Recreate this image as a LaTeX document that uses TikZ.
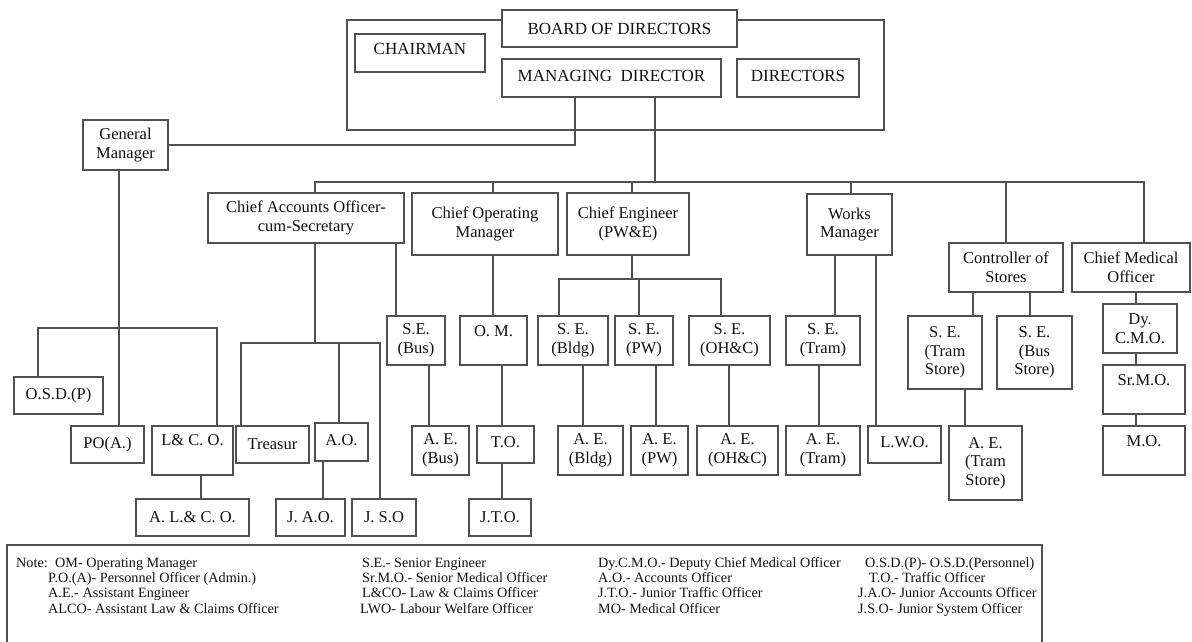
\documentclass[tikz,border=0pt]{standalone}
\usepackage{fontspec}
\setmainfont{Liberation Serif}
\usetikzlibrary{calc}
\definecolor{ln}{HTML}{505050}
\definecolor{tx}{HTML}{111111}
\tikzset{
 box/.style={draw=ln,line width=1.2pt,fill=white,inner sep=0pt,align=center,font=\fontsize{16.5}{18.5}\selectfont,text=tx},
 bigbox/.style={font=\fontsize{17}{19}\selectfont},
 link/.style={draw=ln,line width=1.2pt},
 topt/.style={text height=11.5pt,text depth=#1},
 note/.style={anchor=base west,inner sep=0pt,font=\fontsize{14.2}{15}\selectfont,text=tx}
}
\newcommand\bx[7][]{\node[box,minimum width={(#5)-(#3)},minimum height={(#6)-(#4)},#1] (#2) at ({((#3)+(#5))/2},{((#4)+(#6))/2}) {#7};}
\begin{document}
\begin{tikzpicture}[x=1pt,y=-1pt]
\useasboundingbox (0,0) rectangle (1192,642);
% top block
\bx{frame}{347}{20}{884}{130}{}
\bx[bigbox]{bod}{502}{10}{737}{47}{BOARD OF DIRECTORS}
\bx[bigbox,topt=9pt]{chair}{355}{34}{485}{72}{CHAIRMAN}
\bx[bigbox,topt=5pt]{md}{502}{59}{721}{97}{MANAGING\ \ DIRECTOR}
\bx[bigbox,topt=5pt]{dirs}{737}{59}{859}{97}{DIRECTORS}
\bx{gm}{83}{120}{168}{170}{General\\Manager}
% level 2
\bx{cao}{208}{193}{404}{243}{Chief Accounts Officer-\\cum-Secretary}
\bx{com}{412}{193}{558}{255}{Chief Operating\\Manager}
\bx{ce}{567}{193}{689}{255}{Chief Engineer\\(PW\&E)}
\bx{wm}{807}{194}{892}{255}{Works\\Manager}
\bx{cos}{949}{243}{1063}{292}{Controller of\\Stores}
\bx{cmo}{1072}{243}{1190}{292}{Chief Medical\\Officer}
% level 3
\bx{osd}{14}{377}{103}{414}{O.S.D.(P)}
\bx{seb}{387}{316}{445}{365}{S.E.\\(Bus)}
\bx[topt=20pt]{om}{460}{316}{527}{365}{O. M.}
\bx{sebl}{538}{316}{608}{365}{S. E.\\(Bldg)}
\bx{sepw}{615}{316}{673}{365}{S. E.\\(PW)}
\bx{seoh}{689}{316}{770}{365}{S. E.\\(OH\&C)}
\bx{setr}{786}{316}{860}{365}{S. E.\\(Tram)}
\bx{sets}{908}{316}{982}{389}{S. E.\\(Tram\\Store)}
\bx{sebs}{997}{316}{1072}{389}{S. E.\\(Bus\\Store)}
\bx{dcmo}{1103}{304}{1177}{353}{Dy.\\C.M.O.}
\bx[topt=20pt]{srmo}{1103}{365}{1185}{414}{Sr.M.O.}
\bx[topt=20pt]{mo}{1103}{426}{1185}{475}{M.O.}
% level 4
\bx{poa}{71}{426}{144}{463}{PO(A.)}
\bx[topt=22pt]{lco}{152}{426}{233}{475}{L\& C. O.}
\bx{tre}{236}{426}{309}{463}{Treasur}
\bx[topt=5pt]{ao}{315}{423}{368}{461}{A.O.}
\bx{aeb}{412}{426}{469}{475}{A. E.\\(Bus)}
\bx[topt=5pt]{to}{477}{426}{534}{463}{T.O.}
\bx{aebl}{558}{426}{623}{475}{A. E.\\(Bldg)}
\bx{aepw}{631}{426}{688}{475}{A. E.\\(PW)}
\bx{aeoh}{697}{426}{778}{475}{A. E.\\(OH\&C)}
\bx{aetr}{786}{426}{860}{475}{A. E.\\(Tram)}
\bx[topt=5pt]{lwo}{868}{426}{941}{463}{L.W.O.}
\bx{aets}{949}{426}{1022}{500}{A. E.\\(Tram\\Store)}
% level 5
\bx{alco}{136}{499}{249}{536}{A. L.\& C. O.}
\bx{jao}{276}{499}{345}{536}{J. A.O.}
\bx{jso}{352}{499}{416}{536}{J. S.O}
\bx{jto}{469}{499}{531}{536}{J.T.O.}
% junction coordinates
\coordinate (bus) at (655,182);
\coordinate (gmj) at (119,328);
\coordinate (caj) at (315,343);
\coordinate (cej) at (632,279);
% connectors
\draw[link] (md.south -| 575,0) |- (gm.east);
\draw[link] (md.south -| bus) -- (bus);
\draw[link] (cao.north -| 315,0) |- (bus);
\draw[link] (com.north -| 493,0) |- (bus);
\draw[link] (ce.north -| 632,0) |- (bus);
\draw[link] (wm.north -| 851,0) |- (bus);
\draw[link] (cos.north -| 1006,0) |- (bus);
\draw[link] (cmo.north -| 1144,0) |- (bus);
% general manager subtree
\draw[link] (gm.south -| gmj) -- (poa.north -| gmj);
\draw[link] (osd.north -| 38,0) |- (gmj);
\draw[link] (lco.north -| 217,0) |- (gmj);
\draw[link] (lco.south -| 201,0) -- (alco.north -| 201,0);
% chief accounts subtree
\draw[link] (cao.south -| caj) -- (caj);
\draw[link] (tre.north -| 241,0) |- (caj);
\draw[link] (jso.north -| 380,0) |- (caj);
\draw[link] (ao.north -| 339,0) |- (caj);
\draw[link] (ao.south -| 323,0) -- (jao.north -| 323,0);
\draw[link] (cao.south -| 396,0) -- (seb.north -| 396,0);
\draw[link] (seb.south -| 429,0) -- (aeb.north -| 429,0);
% chief operating manager subtree
\draw[link] (com.south -| 493,0) -- (om.north -| 493,0);
\draw[link] (om.south -| 502,0) -- (to.north -| 502,0);
\draw[link] (to.south -| 502,0) -- (jto.north -| 502,0);
% chief engineer subtree
\draw[link] (ce.south -| cej) -- (cej);
\draw[link] (sebl.north -| 559,0) |- (cej);
\draw[link] (seoh.north -| 721,0) |- (cej);
\draw[link] (sepw.north -| 639,0) |- (cej);
\draw[link] (sebl.south -| 583,0) -- (aebl.north -| 583,0);
\draw[link] (sepw.south -| 656,0) -- (aepw.north -| 656,0);
\draw[link] (seoh.south -| 729,0) -- (aeoh.north -| 729,0);
% works manager subtree
\draw[link] (wm.south -| 835,0) -- (setr.north -| 835,0);
\draw[link] (setr.south -| 819,0) -- (aetr.north -| 819,0);
\draw[link] (wm.south -| 876,0) -- (lwo.north -| 876,0);
% stores subtree
\draw[link] (cos.south -| 973,0) -- (sets.north -| 973,0);
\draw[link] (cos.south -| 1030,0) -- (sebs.north -| 1030,0);
\draw[link] (sets.south -| 965,0) -- (aets.north -| 965,0);
% medical subtree
\draw[link] (cmo.south -| 1136,0) -- (dcmo.north -| 1136,0);
\draw[link] (dcmo.south -| 1136,0) -- (srmo.north -| 1136,0);
\draw[link] (srmo.south -| 1136,0) -- (mo.north -| 1136,0);
% note box
\draw[link] (7,642) -- (7,545) -- (1042,545) -- (1042,642);
\node[note] (n0) at (16,567) {Note:};
\node[note] (n1) at (55,567) {OM- Operating Manager};
\node[note] (n2) at (48,582) {P.O.(A)- Personnel Officer (Admin.)};
\node[note] (n3) at (48,597) {A.E.- Assistant Engineer};
\node[note] (n4) at (48,613) {ALCO- Assistant Law \& Claims Officer};
\node[note] (n5) at (362,567) {S.E.- Senior Engineer};
\node[note] (n6) at (362,582) {Sr.M.O.- Senior Medical Officer};
\node[note] (n7) at (362,597) {L\&CO- Law \& Claims Officer};
\node[note] (n8) at (360,613) {LWO- Labour Welfare Officer};
\node[note] (n9) at (598,567) {Dy.C.M.O.- Deputy Chief Medical Officer};
\node[note] (n10) at (598,582) {A.O.- Accounts Officer};
\node[note] (n11) at (598,597) {J.T.O.- Junior Traffic Officer};
\node[note] (n12) at (598,613) {MO- Medical Officer};
\node[note] (n13) at (865,567) {O.S.D.(P)- O.S.D.(Personnel)};
\node[note] (n14) at (869,582) {T.O.- Traffic Officer};
\node[note] (n15) at (858,597) {J.A.O- Junior Accounts Officer};
\node[note] (n16) at (858,613) {J.S.O- Junior System Officer};
\end{tikzpicture}
\end{document}
